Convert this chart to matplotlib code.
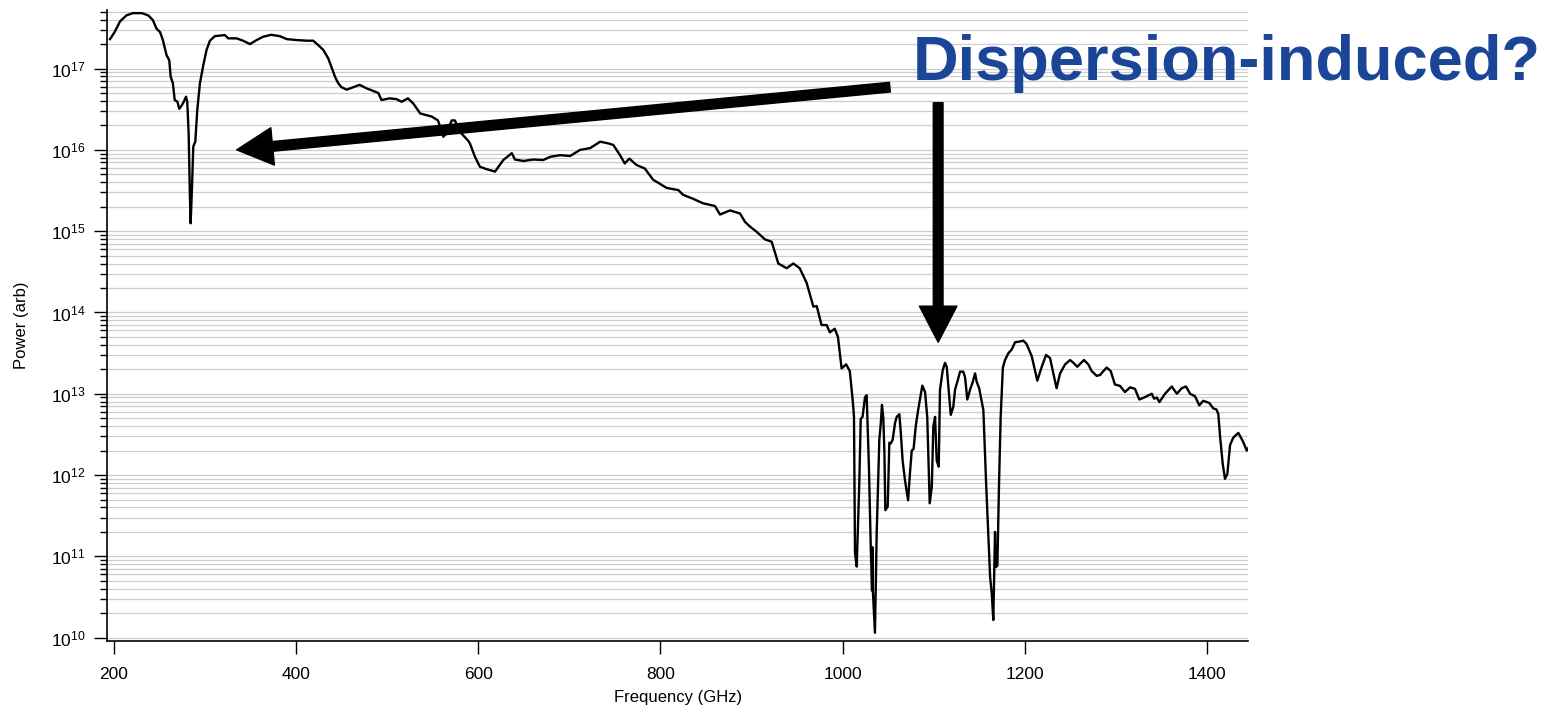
import matplotlib
matplotlib.use("Agg")
import matplotlib.pyplot as plt
from matplotlib.ticker import LogLocator, NullFormatter, FixedLocator

plt.rcParams["font.family"] = ["Liberation Sans", "DejaVu Sans"]
plt.rcParams["mathtext.default"] = "regular"

# --------------------------
# Data
# --------------------------
freq_ghz = [
    196, 201, 207, 214, 221, 231, 238, 243, 247, 251, 254, 258, 261, 262.6, 265,
    267, 270, 272, 274.6, 277, 279.4, 280.8, 282.3, 283.8, 284.5, 286, 287.4,
    289.6, 291.8, 294.7, 298.4, 302, 305.7, 311, 322, 325.8, 335, 342, 349.6,
    357, 364, 373, 382.5, 390, 401, 412, 419, 424.6, 430, 435.6, 439, 443,
    446.5, 450, 455.8, 463, 470, 477.7, 485, 490.5, 494, 503, 510.6, 516, 523,
    529, 536.5, 541.7, 549, 556, 561.8, 565.5, 571, 574.6, 580, 589, 591,
    596.6, 602, 609, 618.6, 627.7, 637, 640.5, 649.6, 660.6, 671.6, 679, 690,
    701, 712, 723, 734, 743, 748.4, 755.8, 761, 766, 774, 783, 792, 807, 819.8,
    825, 836, 847, 860, 865.5, 876.5, 887.5, 893, 898, 905.8, 915, 922.3,
    929.5, 938.7, 946, 953, 960.7, 968, 971.7, 977, 982.7, 986, 991.5, 995,
    999, 1004, 1008, 1011.2, 1012.6, 1013.7, 1015.6, 1018.4, 1020, 1022,
    1024.7, 1026.5, 1029, 1031, 1032.4, 1032.8, 1033.3, 1035.6, 1037.5, 1040.4,
    1042, 1043.3, 1044.8, 1046, 1047, 1049.6, 1051.4, 1053, 1055, 1057.7,
    1059.5, 1062.4, 1064, 1066, 1068.6, 1072, 1074, 1076, 1078, 1080.4, 1083,
    1087.6, 1090.6, 1093, 1095.7, 1098, 1099.7, 1101.6, 1103.4, 1105.6, 1107,
    1110, 1112.5, 1114.4, 1116.2, 1118.8, 1121.6, 1123.5, 1126, 1129, 1132.6,
    1134.5, 1137, 1140, 1143, 1145.5, 1147.3, 1150, 1154.6, 1157.5, 1160, 1162,
    1163.8, 1165.5, 1166.7, 1167.4, 1168.5, 1170, 1171.8, 1173.6, 1176, 1178.4,
    1182, 1185.7, 1189.4, 1195, 1198.5, 1202, 1207.7, 1213.8, 1218.7, 1223.4,
    1227.8, 1231.4, 1235, 1238.8, 1244.3, 1249.8, 1253.5, 1257.7, 1265, 1269.8,
    1273.5, 1279, 1282.6, 1286.3, 1290, 1294.4, 1299, 1304.6, 1310, 1315.7,
    1321, 1325.8, 1332, 1339.4, 1342, 1345, 1347.8, 1354, 1361.4, 1367, 1372.3,
    1377, 1381.5, 1387, 1391.6, 1396, 1402.6, 1407, 1410.5, 1412.5, 1414.4,
    1417.3, 1419.8, 1422.4, 1425.4, 1429, 1434.5, 1439.5, 1443.7, 1446,
]
power_arb = [
    2.3e17, 2.8e17, 3.8e17, 4.5e17, 4.8e17, 4.8e17, 4.5e17, 3.95e17, 3.1e17,
    2.8e17, 2.24e17, 1.47e17, 1.27e17, 7.9e16, 6.6e16, 4.1e16, 3.9e16, 3.2e16,
    3.5e16, 3.9e16, 4.5e16, 3.9e16, 1.6e16, 2.4e15, 1.25e15, 3.5e15, 1.1e16,
    1.26e16, 3.1e16, 6.6e16, 1.1e17, 1.7e17, 2.2e17, 2.5e17, 2.58e17, 2.35e17,
    2.35e17, 2.2e17, 2.0e17, 2.24e17, 2.46e17, 2.6e17, 2.5e17, 2.3e17, 2.24e17,
    2.2e17, 2.2e17, 1.94e17, 1.7e17, 1.33e17, 1.05e17, 7.9e16, 6.6e16, 5.9e16,
    5.5e16, 5.9e16, 6.3e16, 5.7e16, 5.3e16, 5.0e16, 4.1e16, 4.3e16, 4.2e16,
    3.9e16, 4.3e16, 3.7e16, 2.8e16, 2.7e16, 2.57e16, 2.3e16, 1.45e16, 1.6e16,
    2.3e16, 2.3e16, 1.67e16, 1.3e16, 1.2e16, 8.2e15, 6.2e15, 5.8e15, 5.4e15,
    7.5e15, 9.1e15, 7.6e15, 7.3e15, 7.6e15, 7.5e15, 8.2e15, 8.6e15, 8.4e15,
    1.0e16, 1.05e16, 1.26e16, 1.2e16, 1.15e16, 8.6e15, 6.8e15, 7.8e15, 6.5e15,
    5.9e15, 4.3e15, 3.4e15, 3.2e15, 2.8e15, 2.5e15, 2.2e15, 2.04e15, 1.6e15,
    1.8e15, 1.65e15, 1.3e15, 1.15e15, 9.8e14, 7.9e14, 7.4e14, 4.0e14, 3.5e14,
    4.0e14, 3.5e14, 2.3e14, 1.18e14, 1.2e14, 7.0e13, 7.0e13, 5.7e13, 6.3e13,
    5.0e13, 2.05e13, 2.3e13, 1.9e13, 8.3e12, 5.2e12, 1.1e11, 7.5e10, 7.9e11,
    4.9e12, 5.2e12, 9.1e12, 9.6e12, 1.26e12, 1.3e11, 3.8e10, 1.3e11, 3.8e10,
    1.15e10, 1.9e11, 2.7e12, 4.3e12, 7.3e12, 5.0e12, 1.85e12, 3.7e11, 4.1e11,
    2.5e12, 2.45e12, 2.7e12, 4.4e12, 5.2e12, 5.6e12, 3.3e12, 1.5e12, 8.6e11,
    4.9e11, 1.05e12, 2.0e12, 2.1e12, 4.0e12, 6.3e12, 1.26e13, 1.05e13, 5.2e12,
    4.5e11, 7.2e11, 4.0e12, 5.2e12, 1.5e12, 1.27e12, 1.12e13, 1.95e13, 2.4e13,
    2.15e13, 1.24e13, 5.5e12, 6.9e12, 1.12e13, 1.4e13, 1.87e13, 1.87e13,
    1.6e13, 8.5e12, 1.12e13, 1.4e13, 1.78e13, 1.4e13, 1.17e13, 6.3e12, 8.6e11,
    1.9e11, 5.6e10, 3.5e10, 1.65e10, 7.4e10, 2.0e11, 7.4e10, 7.7e10, 7.9e11,
    5.2e12, 2.1e13, 2.6e13, 3.15e13, 3.5e13, 4.3e13, 4.4e13, 4.5e13, 4.1e13,
    2.9e13, 1.45e13, 2.15e13, 3.0e13, 2.75e13, 1.78e13, 1.17e13, 1.78e13,
    2.3e13, 2.6e13, 2.4e13, 2.15e13, 2.6e13, 2.3e13, 1.9e13, 1.66e13, 1.7e13,
    1.9e13, 2.1e13, 1.9e13, 1.3e13, 1.25e13, 1.05e13, 1.2e13, 1.15e13, 8.5e12,
    9.1e12, 1.0e13, 8.7e12, 9.0e12, 7.9e12, 1.0e13, 1.23e13, 1.0e13, 1.17e13,
    1.23e13, 1.0e13, 9.3e12, 7.2e12, 8.2e12, 7.7e12, 6.6e12, 6.4e12, 5.6e12,
    3.0e12, 1.38e12, 9.0e11, 1.03e12, 2.35e12, 2.9e12, 3.3e12, 2.6e12, 2.0e12,
    2.2e12,
]

x_ticks = [200, 400, 600, 800, 1000, 1200, 1400]
annotation_text = "Dispersion-induced?"

# arrows: (tail, tip) in data units
left_arrow = ((1052, 5.9e16), (335, 1.0e16))
down_arrow = ((1105, 3.8e16), (1105, 4.3e13))

# --------------------------
# Plot
# --------------------------
fig = plt.figure(figsize=(15.57, 7.08), dpi=100)
ax = fig.add_axes([0.0689, 0.0946, 0.7326, 0.8913])

ax.plot(freq_ghz, power_arb, color="black", lw=1.7, zorder=3)
ax.set_yscale("log")
ax.set_xlim(193, 1445)
ax.set_ylim(9.1e9, 5.25e17)

ax.yaxis.set_major_locator(LogLocator(base=10, numticks=20))
ax.yaxis.set_minor_locator(LogLocator(base=10, subs=range(2, 10), numticks=100))
ax.yaxis.set_minor_formatter(NullFormatter())
ax.xaxis.set_major_locator(FixedLocator(x_ticks))

ax.yaxis.grid(True, which="both", color="#cdcdcd", lw=0.9, zorder=0)
ax.set_axisbelow(True)

for side in ["top", "right"]:
    ax.spines[side].set_visible(False)
for side in ["left", "bottom"]:
    ax.spines[side].set_linewidth(1.2)

ax.tick_params(axis="both", which="major", direction="out", length=9.5, width=1.0,
               labelsize=12.5)
ax.tick_params(axis="x", which="major", pad=9)
ax.tick_params(axis="y", which="major", pad=6)
ax.tick_params(axis="y", which="minor", direction="out", length=5, width=1.0)

ax.set_xlabel("Frequency (GHz)", fontsize=12, labelpad=6)
ax.set_ylabel("Power (arb)", fontsize=12, labelpad=16)

for (tail, tip) in [left_arrow, down_arrow]:
    ax.annotate("", xy=tip, xytext=tail, xycoords="data", textcoords="data",
                arrowprops=dict(facecolor="black", edgecolor="black", width=7,
                                headwidth=27, headlength=26, shrink=0),
                zorder=4, annotation_clip=False)

fig.text(0.5864, 0.887, annotation_text, fontsize=45.5, fontweight="bold",
         color="#1b4597", ha="left", va="baseline")

fig.savefig("out.png", dpi=100)
